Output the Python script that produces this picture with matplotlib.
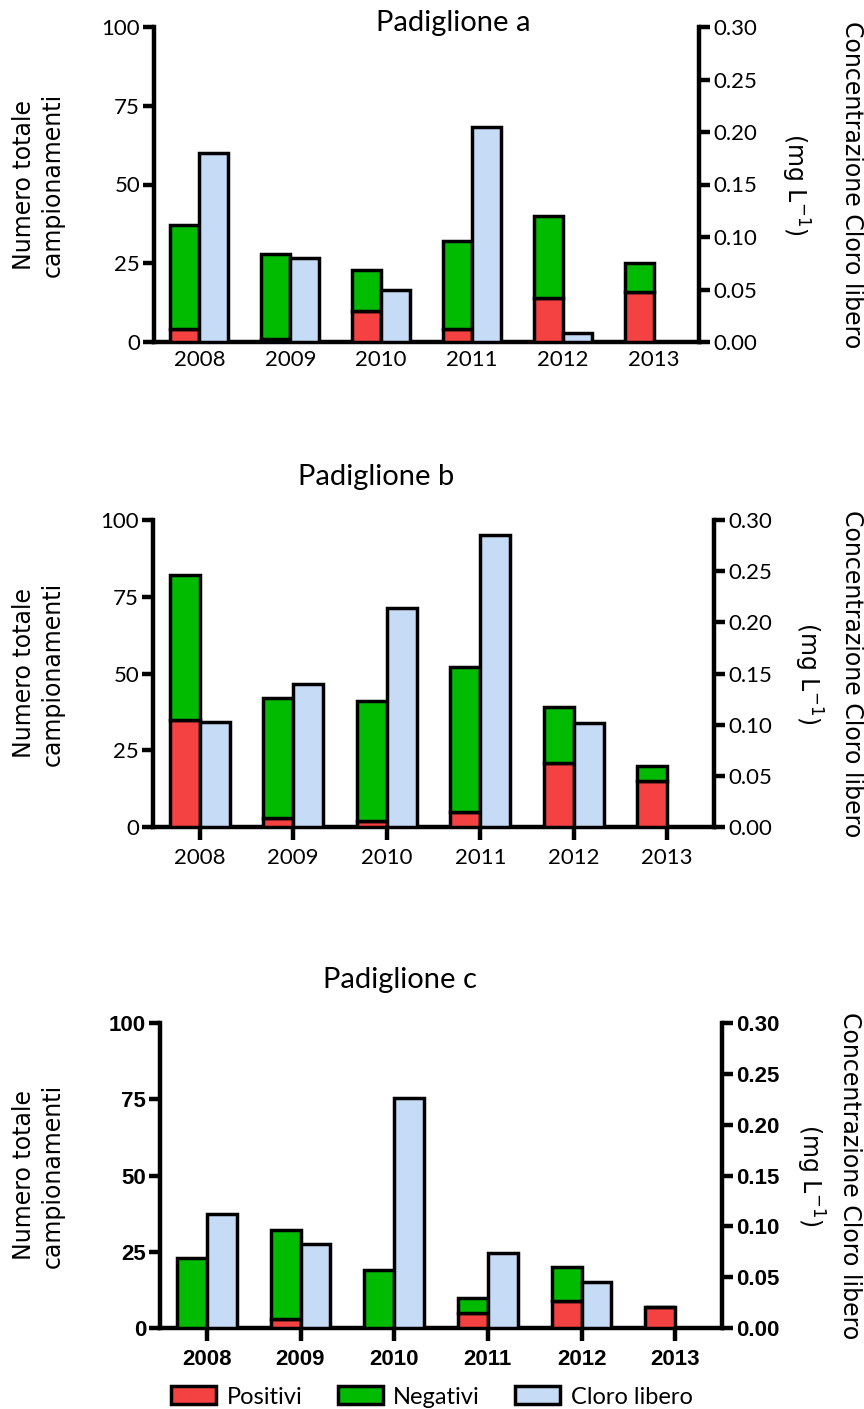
import matplotlib
matplotlib.use("Agg")
import numpy as np
import matplotlib.pyplot as plt
from matplotlib.patches import Patch
from matplotlib.font_manager import FontProperties

anni = ["2008", "2009", "2010", "2011", "2012", "2013"]

# Padiglione a
pos_a = [4, 1, 10, 4, 14, 16]
neg_a = [33, 27, 13, 28, 26, 9]
cloro_a = [0.180, 0.080, 0.050, 0.205, 0.009, 0.0]

# Padiglione b
pos_b = [35, 3, 2, 5, 21, 15]
neg_b = [47, 39, 39, 47, 18, 5]
cloro_b = [0.103, 0.140, 0.214, 0.285, 0.102, 0.0]

# Padiglione c
pos_c = [0, 3, 0, 5, 9, 7]
neg_c = [23, 29, 19, 5, 11, 0]
cloro_c = [0.1125, 0.0825, 0.2265, 0.0735, 0.045, 0.0]

titoli = ["Padiglione a", "Padiglione b", "Padiglione c"]

RED = "#f44242"
GREEN = "#00bb00"
BLUE = "#c6dbf5"

W, H = 864, 1409
fig = plt.figure(figsize=(W / 100, H / 100), dpi=100)

def fx(px):
    return px / W

def fy(py):
    return 1 - py / H

# axes boxes in pixels: left, right, top, bottom, title x, title y, x of right label lines
boxes = [(154, 699, 27, 342, 453, 23, 852, 795),
         (153, 714, 520, 827, 376, 477, 852, 808),
         (160, 722, 1023, 1328, 400, 980, 850, 810)]
dati = [(pos_a, neg_a, cloro_a), (pos_b, neg_b, cloro_b), (pos_c, neg_c, cloro_c)]

calib = "Lato"
lw_sp = 3.2
lw_bar = 2.5
bw = 0.32

for i, ((l, r, t, b, tx, ty, rx1, rx2), (pos, neg, cl)) in enumerate(zip(boxes, dati)):
    ax = fig.add_axes([fx(l), fy(b), fx(r) - fx(l), fy(t) - fy(b)])
    ax2 = ax.twinx()
    x = np.arange(len(anni))
    ax.bar(x - bw, pos, width=bw, align="edge", color=RED, edgecolor="black", linewidth=lw_bar, zorder=3)
    ax.bar(x - bw, neg, width=bw, bottom=pos, align="edge", color=GREEN, edgecolor="black", linewidth=lw_bar, zorder=3)
    cl_arr = np.array(cl)
    mask = cl_arr > 0
    ax2.bar(x[mask], cl_arr[mask], width=bw, align="edge", color=BLUE, edgecolor="black", linewidth=lw_bar, zorder=3)

    ax.set_xlim(-0.5, 5.5)
    ax.set_ylim(0, 100)
    ax2.set_ylim(0, 0.30)
    ax.set_yticks([0, 25, 50, 75, 100])
    ax2.set_yticks([0, 0.05, 0.10, 0.15, 0.20, 0.25, 0.30])
    ax2.set_yticklabels(["%.2f" % v for v in ax2.get_yticks()])
    ax.set_xticks(x)
    ax.set_xticklabels(anni)

    for a in (ax, ax2):
        a.spines["top"].set_visible(False)
        for s in ("left", "right", "bottom"):
            a.spines[s].set_linewidth(lw_sp)
            a.spines[s].set_capstyle("projecting")
    ax2.spines["left"].set_visible(False)
    ax2.spines["bottom"].set_visible(False)
    ax.spines["right"].set_visible(False)

    if i == 2:
        fp = FontProperties(family="Liberation Sans", weight="bold", size=16)
    else:
        fp = FontProperties(family=calib, size=16)
    ax.tick_params(axis="y", length=8, width=lw_sp, pad=2)
    ax2.tick_params(axis="y", length=8, width=lw_sp, pad=2)
    ax.tick_params(axis="x", length=0 if i == 0 else 9, width=lw_sp, pad=6)
    for lab in ax.get_xticklabels() + ax.get_yticklabels() + ax2.get_yticklabels():
        lab.set_fontproperties(fp)

    fig.text(fx(tx), fy(ty), titoli[i], family=calib, fontsize=21, ha="center", va="center")
    yc = fy((t + b) / 2)
    fig.text(fx(38.5), yc, "Numero totale\ncampionamenti", family="DejaVu Sans", fontsize=17,
             rotation=90, ha="center", va="center", multialignment="center", linespacing=1.25)
    fig.text(fx(rx1), yc, "Concentrazione Cloro libero", family="DejaVu Sans", fontsize=17,
             rotation=270, ha="center", va="center")
    fig.text(fx(rx2), yc, "(mg L$^{-1}$)", family="DejaVu Sans", fontsize=17,
             rotation=270, ha="center", va="center")

handles = [Patch(facecolor=RED, edgecolor="black", linewidth=lw_bar, label="Positivi"),
           Patch(facecolor=GREEN, edgecolor="black", linewidth=lw_bar, label="Negativi"),
           Patch(facecolor=BLUE, edgecolor="black", linewidth=lw_bar, label="Cloro libero")]
fig.legend(handles=handles, loc="center", bbox_to_anchor=(432 / W, 12 / H), ncol=3, frameon=False,
           prop={"family": calib, "size": 17}, handlelength=1.9, handleheight=0.8,
           columnspacing=1.5, handletextpad=0.45)

fig.savefig("out.png", dpi=100)
